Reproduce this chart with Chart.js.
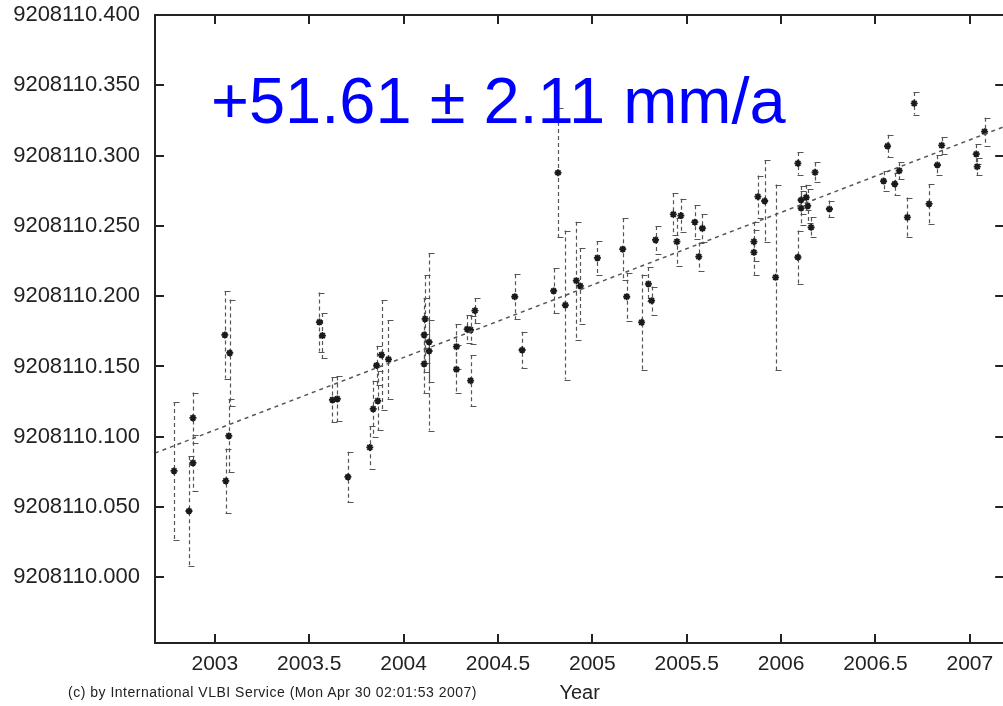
<!DOCTYPE html>
<html><head><meta charset="utf-8">
<script src="https://cdn.jsdelivr.net/npm/chart.js@4/dist/chart.umd.min.js"></script>
<style>
html,body{margin:0;padding:0;overflow:hidden;background:#fff;width:1003px;height:706px}
#wrap{position:absolute;left:0;top:0;width:1010px;height:706px}
#rate{position:absolute;left:211px;top:68px;font-family:"Liberation Sans",Arial,sans-serif;font-size:65px;line-height:1;color:#0000ff;white-space:nowrap}
#copy{position:absolute;left:68px;top:684px;font-family:"Liberation Sans",Arial,sans-serif;font-size:14px;letter-spacing:0.5px;line-height:16px;color:#222;white-space:nowrap}
</style></head><body>
<div id="wrap"><canvas id="c" width="1010" height="706"></canvas></div>
<div id="rate">+51.61 ± 2.11 mm/a</div>
<div id="copy">(c) by International VLBI Service (Mon Apr 30 02:01:53 2007)</div>
<script>
const years = [2002.784,2002.863,2002.884,2002.884,2003.053,2003.079,2003.074,2003.058,2003.554,2003.570,
2003.623,2003.649,2003.705,2003.821,2003.839,2003.857,2003.863,2003.883,2003.920,2004.114,
2004.109,2004.135,2004.135,2004.109,2004.280,2004.280,2004.337,2004.355,2004.378,2004.355,
2004.589,2004.628,2004.795,2004.818,2004.857,2004.915,2004.936,2005.027,2005.161,2005.182,
2005.261,2005.297,2005.314,2005.335,2005.429,2005.469,2005.448,2005.543,2005.583,2005.564,
2005.877,2005.913,2005.856,2005.856,2005.971,2006.089,2006.089,2006.106,2006.106,2006.133,
2006.141,2006.180,2006.159,2006.256,2006.543,2006.564,2006.602,2006.626,2006.669,2006.705,
2006.784,2006.828,2006.851,2007.034,2007.039,2007.078];
const values = [9208110.0757,9208110.0472,9208110.0814,9208110.1134,9208110.1724,9208110.1596,9208110.1006,9208110.0686,9208110.1816,9208110.1720,
9208110.1262,9208110.1269,9208110.0714,9208110.0924,9208110.1198,9208110.1507,9208110.1255,9208110.1582,9208110.1551,9208110.1838,
9208110.1724,9208110.1674,9208110.1610,9208110.1518,9208110.1641,9208110.1480,9208110.1765,9208110.1760,9208110.1897,9208110.1399,
9208110.1996,9208110.1617,9208110.2037,9208110.2878,9208110.1937,9208110.2110,9208110.2073,9208110.2272,9208110.2334,9208110.1996,
9208110.1814,9208110.2087,9208110.1968,9208110.2400,9208110.2582,9208110.2573,9208110.2388,9208110.2526,9208110.2483,9208110.2281,
9208110.2708,9208110.2677,9208110.2388,9208110.2312,9208110.2134,9208110.2945,9208110.2277,9208110.2684,9208110.2627,9208110.2703,
9208110.2642,9208110.2881,9208110.2490,9208110.2620,9208110.2819,9208110.3068,9208110.2798,9208110.2893,9208110.2561,9208110.3372,
9208110.2656,9208110.2933,9208110.3073,9208110.3011,9208110.2921,9208110.3170];
const errors = [0.049,0.039,0.020,0.018,0.031,0.038,0.026,0.023,0.021,0.016,
0.016,0.016,0.018,0.015,0.020,0.014,0.021,0.039,0.028,0.031,
0.026,0.063,0.022,0.021,0.016,0.017,0.010,0.010,0.009,0.018,
0.016,0.013,0.016,0.046,0.053,0.042,0.027,0.012,0.022,0.017,
0.034,0.012,0.010,0.010,0.015,0.012,0.017,0.012,0.010,0.010,
0.015,0.029,0.014,0.016,0.066,0.008,0.019,0.010,0.012,0.009,
0.012,0.007,0.007,0.006,0.007,0.008,0.008,0.006,0.014,0.008,
0.014,0.007,0.006,0.007,0.006,0.010];
const fitYears = [2002.683, 2007.182];
const fitValues = [9208110.0884, 9208110.3206];
const xTicks = [2003, 2003.5, 2004, 2004.5, 2005, 2005.5, 2006, 2006.5, 2007];
const yTicks = [9208110.000, 9208110.050, 9208110.100, 9208110.150, 9208110.200, 9208110.250, 9208110.300, 9208110.350, 9208110.400];
const xRange = [2002.683, 2007.182];
const yRange = [9208109.9533, 9208110.400];

const FONT = '"Liberation Sans", Arial, sans-serif';

const decor = {
  id: 'decor',
  beforeDatasetsDraw(chart) {
    const {ctx, chartArea: a} = chart;
    const xs = chart.scales.x, ys = chart.scales.y;
    ctx.save();
    ctx.beginPath(); ctx.rect(a.left, a.top, a.right - a.left, a.bottom - a.top); ctx.clip();
    ctx.strokeStyle = '#555';
    ctx.lineWidth = 1.2;
    for (let i = 0; i < years.length; i++) {
      const px = Math.round(xs.getPixelForValue(years[i])) + 0.5;
      const top = ys.getPixelForValue(values[i] + errors[i]);
      const bot = ys.getPixelForValue(values[i] - errors[i]);
      ctx.setLineDash([4, 3]);
      ctx.beginPath(); ctx.moveTo(px, top); ctx.lineTo(px, bot); ctx.stroke();
      ctx.setLineDash([]);
      ctx.beginPath();
      ctx.moveTo(px - 1, Math.round(top) + 0.5); ctx.lineTo(px + 5, Math.round(top) + 0.5);
      ctx.moveTo(px - 1, Math.round(bot) + 0.5); ctx.lineTo(px + 5, Math.round(bot) + 0.5);
      ctx.stroke();
    }
    ctx.restore();
  },
  afterDraw(chart) {
    const {ctx, chartArea: a} = chart;
    const xs = chart.scales.x, ys = chart.scales.y;
    ctx.save();
    ctx.strokeStyle = '#222';
    ctx.lineWidth = 2;
    ctx.strokeRect(a.left, a.top, a.right - a.left, a.bottom - a.top);
    ctx.beginPath();
    xTicks.forEach(v => {
      const p = Math.round(xs.getPixelForValue(v));
      ctx.moveTo(p, a.bottom); ctx.lineTo(p, a.bottom - 9);
      ctx.moveTo(p, a.top); ctx.lineTo(p, a.top + 9);
    });
    yTicks.forEach(v => {
      const p = Math.round(ys.getPixelForValue(v));
      ctx.moveTo(a.left, p); ctx.lineTo(a.left + 9, p);
      ctx.moveTo(a.right, p); ctx.lineTo(a.right - 9, p);
    });
    ctx.stroke();
    ctx.restore();
  }
};

new Chart(document.getElementById('c'), {
  data: {
    datasets: [
      {
        type: 'line',
        data: fitYears.map((t, i) => ({x: t, y: fitValues[i]})),
        borderColor: '#555',
        borderWidth: 1.5,
        borderDash: [4, 4],
        pointRadius: 0,
        fill: false
      },
      {
        type: 'scatter',
        data: years.map((t, i) => ({x: t, y: values[i]})),
        pointStyle: 'star',
        pointRadius: 3.5,
        borderColor: '#1a1a1a',
        backgroundColor: '#1a1a1a',
        borderWidth: 1.8
      }
    ]
  },
  options: {
    responsive: false,
    animation: false,
    events: [],
    layout: {padding: {left: 0, right: 3, top: 15, bottom: 0}},
    plugins: {legend: {display: false}, tooltip: {enabled: false}},
    scales: {
      x: {
        type: 'linear',
        min: xRange[0], max: xRange[1],
        grid: {display: false, drawTicks: false},
        border: {display: false},
        afterBuildTicks: s => { s.ticks = xTicks.map(v => ({value: v})); },
        afterFit: s => { s.height = 63; s.paddingLeft = 0; s.paddingRight = 0; },
        ticks: {
          callback: v => String(v),
          font: {family: FONT, size: 21},
          color: '#222',
          padding: 9,
          maxRotation: 0,
          autoSkip: false
        },
        title: {
          display: true, text: 'Year',
          font: {family: FONT, size: 20},
          color: '#222',
          padding: {top: 0, bottom: 1}
        }
      },
      y: {
        type: 'linear',
        min: yRange[0], max: yRange[1],
        grid: {display: false, drawTicks: false},
        border: {display: false},
        afterBuildTicks: s => { s.ticks = yTicks.map(v => ({value: v})); },
        afterFit: s => { s.width = 155; s.paddingTop = 0; s.paddingBottom = 0; },
        ticks: {
          callback: v => Number(v).toFixed(3),
          font: {family: FONT, size: 22},
          color: '#222',
          padding: 15,
          autoSkip: false
        }
      }
    }
  },
  plugins: [decor]
});
</script>
</body></html>
